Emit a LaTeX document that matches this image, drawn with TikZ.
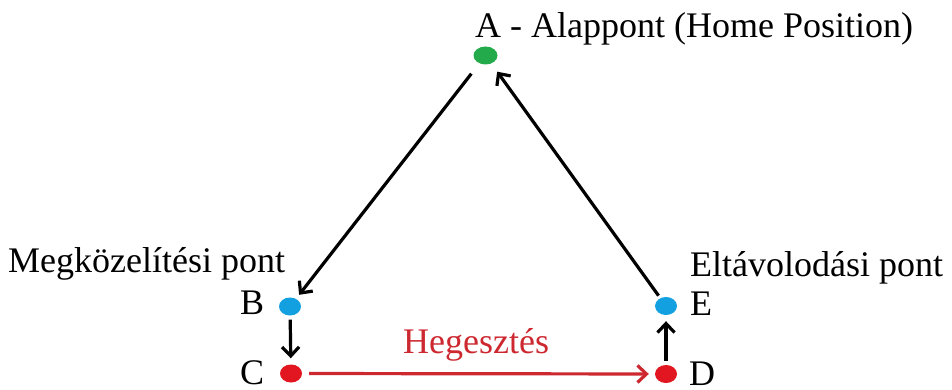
\documentclass[tikz,border=0pt]{standalone}
\usepackage{fontspec}
\setmainfont{Liberation Serif}
\usetikzlibrary{arrows.meta,shapes.geometric}
\definecolor{dotgreen}{RGB}{34,170,75}
\definecolor{dotblue}{RGB}{18,160,225}
\definecolor{dotred}{RGB}{225,22,32}
\definecolor{weldred}{RGB}{205,40,48}
\tikzset{
  dot/.style={ellipse, inner sep=0pt, minimum width=22pt, minimum height=18pt, draw=none},
  lbl/.style={inner sep=0pt, font=\fontsize{36}{40}\selectfont},
  conn/.style={line width=3.2pt, -{Straight Barb[length=9pt,width=17pt,line width=3.2pt]}}
}
\begin{document}
\begin{tikzpicture}[x=1pt,y=-1pt]
\useasboundingbox (0,0) rectangle (952,390);
% points
\node[dot, fill=dotgreen, minimum width=24pt] (A) at (485.5,55.5) {};
\node[dot, fill=dotblue] (B) at (290,306.5) {};
\node[dot, fill=dotred] (C) at (291,373.5) {};
\node[dot, fill=dotred] (D) at (666,374) {};
\node[dot, fill=dotblue] (E) at (666,306) {};
% labels
\node[lbl, anchor=base west] (tA) at (475,38) {A - Alappont (Home Position)};
\node[lbl, anchor=base west] (tM) at (8,272) {Megközelítési pont};
\node[lbl, anchor=base west] (tEl) at (690,276) {Eltávolodási pont};
\node[lbl, anchor=base west] (tB) at (240,314) {B};
\node[lbl, anchor=base west] (tC) at (240,384) {C};
\node[lbl, anchor=base west] (tE) at (690,315) {E};
\node[lbl, anchor=base west] (tD) at (689,385) {D};
\node[lbl, anchor=base west, text=weldred] (tH) at (403,353) {Hegesztés};
% connectors
\draw[conn, shorten <=13pt, shorten >=5pt] (A) -- (B);
\draw[conn, shorten <=4pt, shorten >=6pt] (B) -- (C);
\draw[conn, draw=weldred, shorten <=7pt, shorten >=6pt] (C) -- (D);
\draw[conn, shorten <=4pt, shorten >=6pt] (D) -- (E);
\draw[conn, shorten <=3pt, shorten >=10pt] (E) -- (A);
\end{tikzpicture}
\end{document}
